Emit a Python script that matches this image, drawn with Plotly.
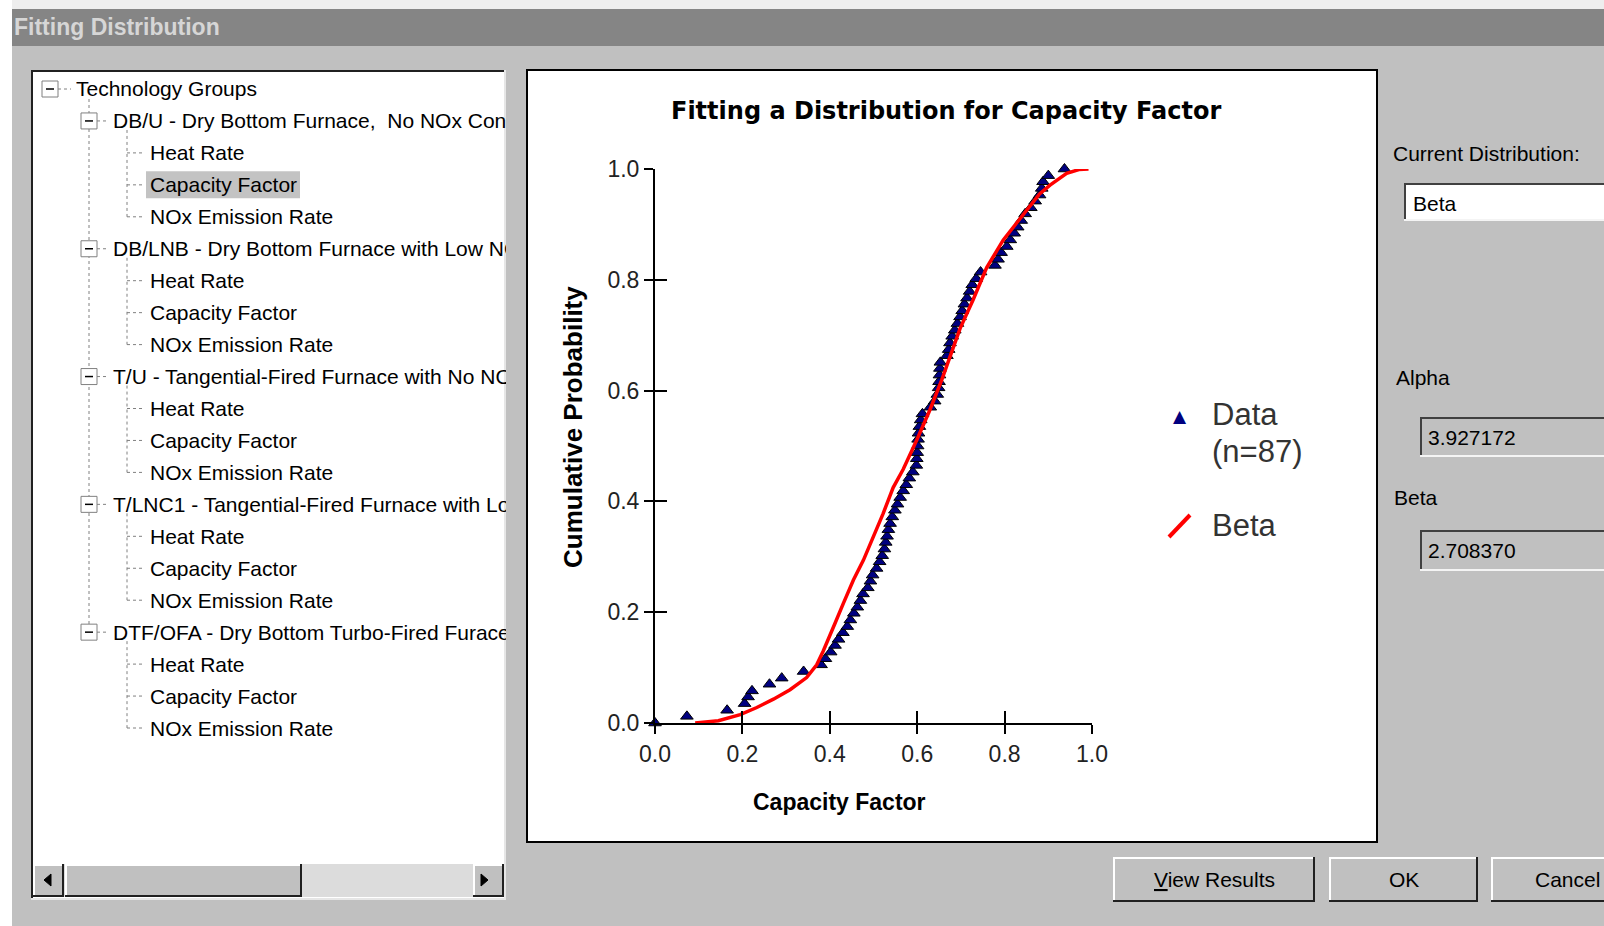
import plotly.graph_objects as go

# ---------------- data ----------------
capacity_factor = [
    0.000, 0.073, 0.165, 0.205, 0.213, 0.222, 0.262, 0.290, 0.340, 0.380,
    0.390, 0.402, 0.412, 0.420, 0.430, 0.440, 0.447, 0.455, 0.463, 0.470,
    0.476, 0.487, 0.493, 0.498, 0.507, 0.514, 0.520, 0.525, 0.528, 0.531,
    0.534, 0.538, 0.543, 0.549, 0.555, 0.561, 0.568, 0.575, 0.582, 0.590,
    0.598, 0.599, 0.600, 0.601, 0.602, 0.603, 0.605, 0.608, 0.612, 0.630,
    0.640, 0.646, 0.649, 0.650, 0.651, 0.652, 0.653, 0.668, 0.672, 0.675,
    0.680, 0.686, 0.692, 0.698, 0.703, 0.708, 0.714, 0.720, 0.726, 0.735,
    0.745, 0.778, 0.785, 0.792, 0.805, 0.813, 0.822, 0.830, 0.838, 0.847,
    0.860, 0.870, 0.880, 0.885, 0.888, 0.900, 0.937]
cum_prob = [
    0.000, 0.012, 0.023, 0.035, 0.047, 0.058, 0.070, 0.081, 0.093, 0.105,
    0.116, 0.128, 0.140, 0.151, 0.163, 0.174, 0.186, 0.198, 0.209, 0.221,
    0.233, 0.244, 0.256, 0.267, 0.279, 0.291, 0.302, 0.314, 0.326, 0.337,
    0.349, 0.360, 0.372, 0.384, 0.395, 0.407, 0.419, 0.430, 0.442, 0.453,
    0.465, 0.477, 0.488, 0.500, 0.512, 0.523, 0.535, 0.547, 0.558, 0.570,
    0.581, 0.593, 0.605, 0.616, 0.628, 0.640, 0.651, 0.663, 0.674, 0.686,
    0.698, 0.709, 0.721, 0.733, 0.744, 0.756, 0.767, 0.779, 0.791, 0.802,
    0.814, 0.826, 0.837, 0.849, 0.860, 0.872, 0.884, 0.895, 0.907, 0.919,
    0.930, 0.942, 0.953, 0.965, 0.977, 0.988, 1.000]

beta_x = [0.092, 0.145, 0.195, 0.233, 0.271, 0.309, 0.347, 0.370, 0.385, 0.400,
          0.412, 0.431, 0.454, 0.477, 0.500, 0.522, 0.545, 0.568, 0.599, 0.629,
          0.656, 0.679, 0.698, 0.728, 0.759, 0.797, 0.827, 0.858, 0.880, 0.904,
          0.942, 0.970, 0.992]
beta_cdf = [0.000, 0.004, 0.015, 0.028, 0.043, 0.060, 0.082, 0.105, 0.130, 0.160,
            0.180, 0.216, 0.258, 0.294, 0.336, 0.378, 0.425, 0.458, 0.511, 0.565,
            0.619, 0.668, 0.712, 0.764, 0.822, 0.872, 0.902, 0.935, 0.955, 0.971,
            0.992, 0.999, 1.000]

tick_vals = [0.0, 0.2, 0.4, 0.6, 0.8, 1.0]
tick_labels = ["0.0", "0.2", "0.4", "0.6", "0.8", "1.0"]

tree_rows = [
    (0, "Technology Groups"),
    (1, "DB/U - Dry Bottom Furnace,  No NOx Control"),
    (2, "Heat Rate"), (2, "Capacity Factor"), (2, "NOx Emission Rate"),
    (1, "DB/LNB - Dry Bottom Furnace with Low NOx Burners"),
    (2, "Heat Rate"), (2, "Capacity Factor"), (2, "NOx Emission Rate"),
    (1, "T/U - Tangential-Fired Furnace with No NOx Control"),
    (2, "Heat Rate"), (2, "Capacity Factor"), (2, "NOx Emission Rate"),
    (1, "T/LNC1 - Tangential-Fired Furnace with Low NOx"),
    (2, "Heat Rate"), (2, "Capacity Factor"), (2, "NOx Emission Rate"),
    (1, "DTF/OFA - Dry Bottom Turbo-Fired Furace with OFA"),
    (2, "Heat Rate"), (2, "Capacity Factor"), (2, "NOx Emission Rate"),
]
selected_row = 3

alpha_value = "3.927172"
beta_value = "2.708370"
n_points = 87

# ---------------- layout helpers (pixel -> paper) ----------------
W, H = 1604, 926
L, R, T, B = 655, 1092, 169, 723
PW, PH = R - L, B - T
FONT = "Liberation Sans, Arial, sans-serif"
DLG = "#c0c0c0"


def fx(p):
    return (p - L) / PW


def fy(p):
    return (B - p) / PH


shapes = []
annots = []


def rect(x0, y0, x1, y1, fill=None, line=None, lw=0, layer="below"):
    shapes.append(dict(type="rect", xref="paper", yref="paper",
                       x0=fx(x0), x1=fx(x1), y0=fy(y1), y1=fy(y0),
                       fillcolor=fill or "rgba(0,0,0,0)",
                       line=dict(color=line or "rgba(0,0,0,0)", width=lw),
                       layer=layer))


def seg(x0, y0, x1, y1, color, lw=1, dash="solid", layer="below"):
    shapes.append(dict(type="line", xref="paper", yref="paper",
                       x0=fx(x0), y0=fy(y0), x1=fx(x1), y1=fy(y1),
                       line=dict(color=color, width=lw, dash=dash), layer=layer))


def tri(points, color, layer="below"):
    path = "M " + " L ".join(f"{fx(a)},{fy(b)}" for a, b in points) + " Z"
    shapes.append(dict(type="path", xref="paper", yref="paper", path=path,
                       fillcolor=color, line=dict(color=color, width=1), layer=layer))


def text(x, y, s, size=21, color="black", xanchor="left", width=None, angle=0,
         family=FONT):
    a = dict(x=fx(x), y=fy(y), xref="paper", yref="paper", text=s,
             showarrow=False, xanchor=xanchor, yanchor="middle",
             font=dict(family=family, size=size, color=color), textangle=angle)
    if width is not None:
        a["width"] = width
        a["align"] = "left"
    annots.append(a)


def sunken(x0, y0, x1, y1, fill):
    rect(x0, y0, x1, y1, fill=fill)
    seg(x0, y0 + 1, x1, y0 + 1, "#404040", 2)
    seg(x0 + 1, y0, x0 + 1, y1, "#404040", 2)
    seg(x0, y1 - 1, x1, y1 - 1, "#f4f4f4", 2)


def raised(x0, y0, x1, y1):
    rect(x0, y0, x1, y1, fill=DLG)
    seg(x0, y0 + 1, x1, y0 + 1, "#ffffff", 2)
    seg(x0 + 1, y0, x0 + 1, y1, "#ffffff", 2)
    seg(x0, y1 - 1, x1, y1 - 1, "#202020", 2)
    seg(x1 - 1, y0, x1 - 1, y1, "#202020", 2)


# ---------------- dialog chrome ----------------
rect(0, 0, 1610, 9, fill="#eeeeee")
rect(0, 0, 12, 930, fill="#ffffff")
rect(12, 9, 1610, 46, fill="#858585")
text(12, 27, "<b>Fitting Distribution</b>", size=23, color="#d6d6d6")

# tree panel
rect(31, 70, 506, 899, fill="#ffffff")
seg(31, 71, 506, 71, "#202020", 2)
seg(32, 70, 32, 899, "#202020", 2)
seg(31, 899, 506, 899, "#e6e6e6", 2)
seg(505, 70, 505, 899, "#e6e6e6", 2)

row_y = [89 + 31.95 * k for k in range(len(tree_rows))]
l1_rows = [k for k, (lvl, _) in enumerate(tree_rows) if lvl == 1]
seg(89, row_y[0] + 10, 89, row_y[l1_rows[-1]], "#808080", 1, "dot")
for k in l1_rows:
    last = k
    j = k + 1
    while j < len(tree_rows) and tree_rows[j][0] == 2:
        last = j
        j += 1
    seg(127, row_y[k] + 9, 127, row_y[last], "#808080", 1, "dot")

rect(146, row_y[selected_row] - 13.5, 300, row_y[selected_row] + 13.5, fill="#c3c3c3")

for k, (lvl, label) in enumerate(tree_rows):
    yy = row_y[k]
    if lvl == 0:
        cx, tx = 50, 74
    elif lvl == 1:
        cx, tx = 89, 111
    else:
        cx, tx = None, 148
    if cx is not None:
        seg(cx + 8, yy, tx - 3, yy, "#808080", 1, "dot")
        rect(cx - 8, yy - 8, cx + 8, yy + 8, fill="#ffffff", line="#808080", lw=1)
        seg(cx - 4, yy, cx + 4, yy, "#000000", 1.5)
    else:
        seg(127, yy, tx - 3, yy, "#808080", 1, "dot")
    text(tx, yy, label, size=21, color="#000000", width=504 - tx)

# scrollbar
rect(33, 864, 503, 897, fill="#dcdcdc")
raised(33, 864, 64, 897)
raised(65, 864, 302, 897)
raised(473, 864, 504, 897)
tri([(44, 880), (51, 874), (51, 886)], "#000000")
tri([(481, 874), (488, 880), (481, 886)], "#000000")

# chart panel
rect(527, 70, 1377, 842, fill="#ffffff", line="#000000", lw=2)

# right-hand controls
text(1391, 153, "Current Distribution:", size=21)
sunken(1404, 183, 1612, 221, "#ffffff")
text(1411, 203, "Beta", size=21)
text(1394, 377, "Alpha", size=21)
sunken(1420, 417, 1612, 457, DLG)
text(1426, 437, alpha_value, size=21)
text(1392, 497, "Beta", size=21)
sunken(1420, 530, 1612, 571, DLG)
text(1426, 550, beta_value, size=21)

# buttons
raised(1113, 857, 1315, 902)
text(1214, 879, "<u>V</u>iew Results", size=21, xanchor="center")
raised(1329, 857, 1478, 902)
text(1404, 879, "OK", size=21, xanchor="center")
raised(1491, 857, 1640, 902)
text(1567, 879, "Cancel", size=21, xanchor="center")

# ---------------- chart texts ----------------
text(946, 111, "<b>Fitting a Distribution for Capacity Factor</b>", size=24,
     xanchor="center", family="DejaVu Sans, sans-serif")
text(839, 802, "<b>Capacity Factor</b>", size=23, xanchor="center")
annots.append(dict(x=fx(573), y=fy(427), xref="paper", yref="paper",
                   text="<b>Cumulative Probability</b>", showarrow=False,
                   textangle=-90, xanchor="center", yanchor="middle",
                   font=dict(family=FONT, size=26, color="#000000")))

# legend (drawn by hand to keep the original look)
text(1180, 416, "▲", size=17, color="#000080", xanchor="center",
     family="DejaVu Sans")
text(1210, 414, "Data", size=31, color="#333333")
text(1210, 452, f"(n={n_points})", size=31, color="#333333")
seg(1169, 537, 1190, 515, "#ff0000", 4, layer="above")
text(1210, 525, "Beta", size=31, color="#333333")

# ---------------- figure ----------------
fig = go.Figure()
fig.add_trace(go.Scatter(
    x=capacity_factor, y=cum_prob, mode="markers", name=f"Data (n={n_points})",
    marker=dict(symbol="triangle-up", size=11, color="#000080",
                line=dict(color="#000000", width=1)),
    cliponaxis=False, showlegend=False))
fig.add_trace(go.Scatter(
    x=beta_x, y=beta_cdf, mode="lines", name="Beta",
    line=dict(color="#ff0000", width=3.5), cliponaxis=False, showlegend=False))
fig.add_trace(go.Scatter(x=[], y=[], xaxis="x2", yaxis="y2", showlegend=False,
                         hoverinfo="skip"))

axis_common = dict(range=[0, 1], tickvals=tick_vals, ticktext=tick_labels,
                   showgrid=False, zeroline=False, showline=True,
                   linecolor="#000000", linewidth=2, ticks="outside",
                   ticklen=9, tickwidth=2, tickcolor="#000000",
                   tickfont=dict(family=FONT, size=23, color="#222222"),
                   ticklabelstandoff=0, fixedrange=True)
overlay_common = dict(range=[0, 1], tickvals=tick_vals, showticklabels=False,
                      showgrid=False, zeroline=False, showline=False,
                      ticks="inside", ticklen=12, tickwidth=2,
                      tickcolor="#000000", fixedrange=True)

fig.update_layout(
    width=W, height=H,
    margin=dict(l=L, r=W - R, t=T, b=H - B, pad=0),
    paper_bgcolor=DLG, plot_bgcolor="#ffffff",
    xaxis=dict(**axis_common),
    yaxis=dict(**axis_common),
    xaxis2=dict(**overlay_common, overlaying="x", anchor="y2", side="bottom"),
    yaxis2=dict(**overlay_common, overlaying="y", anchor="x2", side="left"),
    shapes=shapes, annotations=annots,
    showlegend=False, hovermode=False,
)

fig.write_html("out.html")
